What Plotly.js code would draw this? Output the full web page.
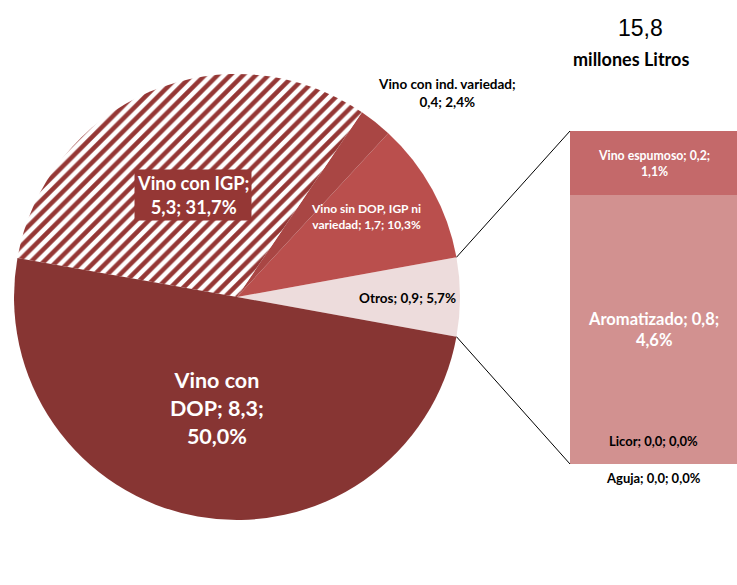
<!DOCTYPE html>
<html><head><meta charset="utf-8">
<script src="https://cdn.plot.ly/plotly-3.0.1.min.js"></script>
<style>html,body{margin:0;padding:0;background:#fff}#chart{width:737px;height:585px}</style>
</head><body><div id="chart"></div>
<script>
// ---- data ----
const pieNames = ['Otros', 'Vino sin DOP, IGP ni variedad', 'Vino con ind. variedad', 'Vino con IGP', 'Vino con DOP'];
const pieVolumes = [0.9, 1.7, 0.4, 5.3, 8.3];
const piePercents = [5.7, 10.3, 2.4, 31.7, 50.0];
const barNames = ['Aguja', 'Licor', 'Aromatizado', 'Vino espumoso'];
const barVolumes = [0.0, 0.0, 0.8, 0.2];
const barPercents = [0.0, 0.0, 4.6, 1.1];
const totalVolume = 15.8;
const unitLabel = 'millones Litros';

// ---- styles ----
const pieColors = ['#EDDCDC', '#BA4F4D', '#A94644', '#FFFFFF', '#873533'];
const hatchColor = '#953735';
const barColors = ['#D29190', '#D29190', '#D29190', '#C4696A'];

const W = 737, H = 585;
const cx = 237, cy = 297, R = 223;            // pie geometry (px)
const bx0 = 570, bx1 = 737, byTop = 131, byBot = 464; // bar geometry (px)
const px = x => x / W, py = y => (H - y) / H;

const fmt = v => v.toFixed(1).replace('.', ',');
function wrap(str, maxChars) {
  const words = str.split(' '); const lines = []; let cur = '';
  for (const w of words) {
    if (cur && (cur + ' ' + w).length > maxChars) { lines.push(cur); cur = w; }
    else cur = cur ? cur + ' ' + w : w;
  }
  if (cur) lines.push(cur);
  return lines.join('<br>');
}
const pieLabel = (i, m) => wrap(`${pieNames[i]}; ${fmt(pieVolumes[i])}; ${fmt(piePercents[i])}%`, m);
const barLabel = (i, m) => wrap(`${barNames[i]}; ${fmt(barVolumes[i])}; ${fmt(barPercents[i])}%`, m);

const totalPct = piePercents.reduce((a, b) => a + b, 0);
const halfOtros = piePercents[0] / totalPct * 180;

const pie = {
  type: 'pie', values: piePercents, labels: pieNames, sort: false,
  direction: 'counterclockwise', rotation: 90 - halfOtros,
  textinfo: 'none', hoverinfo: 'none', showlegend: false,
  marker: {
    colors: pieColors,
    line: {width: 0},
    pattern: {shape: ['', '', '', '/', ''], fgcolor: hatchColor, bgcolor: '#FFFFFF', size: 9, solidity: 0.5, fillmode: 'replace'}
  },
  domain: {x: [px(cx - R), px(cx + R)], y: [py(cy + R), py(cy - R)]}
};

const bars = barNames.map((n, i) => ({
  type: 'bar', x: [0], y: [barPercents[i]], width: 1, name: n,
  marker: {color: barColors[i], line: {width: 0}},
  hoverinfo: 'none', showlegend: false, xaxis: 'x', yaxis: 'y'
}));

const barTotal = barPercents.reduce((a, b) => a + b, 0);
const font = 'Lato, "Open Sans", sans-serif';
const ann = [];
function A(o) { ann.push(Object.assign({showarrow: false, xanchor: 'center', yanchor: 'middle', font: {family: font, size: 12, color: '#000'}}, o)); }

// pie labels
A({x: px(217), y: py(408), xref: 'paper', yref: 'paper', text: '<b>' + pieLabel(4, 10) + '</b>', font: {family: font, size: 21.5, color: '#fff'}});
A({x: px(193), y: py(195), xref: 'paper', yref: 'paper', text: '<b>' + pieLabel(3, 13) + '</b>', font: {family: font, size: 18.3, color: '#fff'}, bgcolor: '#953735', borderpad: 2});
A({x: px(366), y: py(216), xref: 'paper', yref: 'paper', text: '<b>' + pieLabel(1, 20) + '</b>', font: {family: font, size: 12, color: '#fff'}});
A({x: px(407), y: py(298), xref: 'paper', yref: 'paper', text: '<b>' + pieLabel(0, 40) + '</b>', font: {family: font, size: 13.5, color: '#000'}});
A({x: px(447), y: py(93), xref: 'paper', yref: 'paper', text: '<b>' + pieLabel(2, 23) + '</b>', font: {family: font, size: 13.5, color: '#000'}});

// bar labels
let cum = 0; const mids = [];
barPercents.forEach(v => { mids.push(cum + v / 2); cum += v; });
A({x: 0, y: mids[3], xref: 'x', yref: 'y', text: '<b>' + barLabel(3, 19) + '</b>', font: {family: font, size: 12.3, color: '#fff'}});
A({x: 0, y: mids[2], xref: 'x', yref: 'y', text: '<b>' + barLabel(2, 17) + '</b>', font: {family: font, size: 16.5, color: '#fff'}});
A({x: 0, y: mids[1], xref: 'x', yref: 'y', yshift: 23, text: '<b>' + barLabel(1, 40) + '</b>', font: {family: font, size: 13, color: '#000'}});
A({x: 0, y: mids[0], xref: 'x', yref: 'y', yshift: -14, text: '<b>' + barLabel(0, 40) + '</b>', font: {family: font, size: 13, color: '#000'}});

// total
A({x: px(640), y: py(28), xref: 'paper', yref: 'paper', text: fmt(totalVolume), font: {family: '"Liberation Sans", Arial, sans-serif', size: 23, color: '#000'}});
A({x: px(631), y: py(59), xref: 'paper', yref: 'paper', text: '<b>' + unitLabel + '</b>', font: {family: font, size: 18, color: '#000'}});

// connector lines
const a = halfOtros * Math.PI / 180;
const shapes = [
  {type: 'line', xref: 'paper', yref: 'paper', x0: px(cx + R * Math.cos(a)), y0: py(cy - R * Math.sin(a)), x1: px(bx0), y1: py(byTop), line: {color: '#000', width: 1}},
  {type: 'line', xref: 'paper', yref: 'paper', x0: px(cx + R * Math.cos(a)), y0: py(cy + R * Math.sin(a)), x1: px(bx0), y1: py(byBot), line: {color: '#000', width: 1}}
];

const layout = {
  width: W, height: H, margin: {l: 0, r: 0, t: 0, b: 0},
  paper_bgcolor: '#fff', plot_bgcolor: 'rgba(0,0,0,0)',
  barmode: 'stack', bargap: 0,
  xaxis: {domain: [px(bx0), px(bx1)], range: [-0.5, 0.5], visible: false, fixedrange: true},
  yaxis: {domain: [py(byBot), py(byTop)], range: [0, barTotal], visible: false, fixedrange: true},
  annotations: ann, shapes: shapes
};

Plotly.newPlot('chart', [pie].concat(bars), layout, {staticPlot: true});
</script></body></html>
